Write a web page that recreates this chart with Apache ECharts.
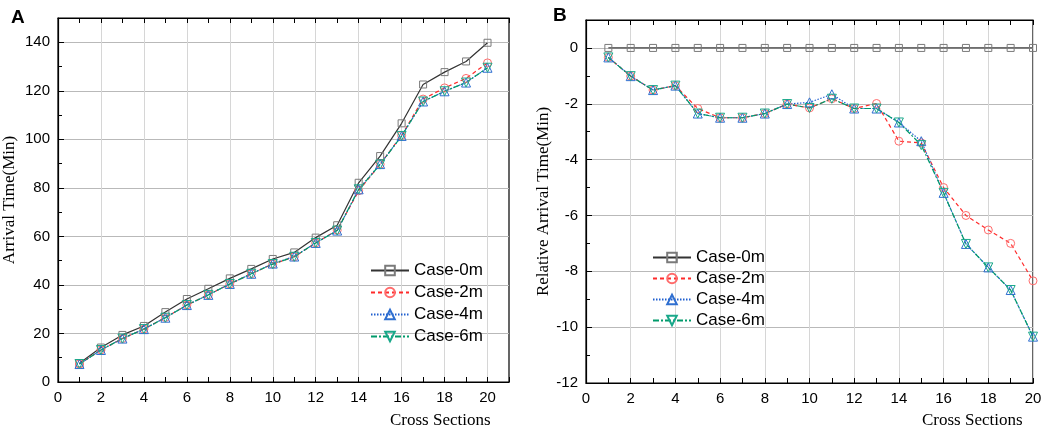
<!DOCTYPE html>
<html>
<head>
<meta charset="utf-8">
<script src="https://cdn.jsdelivr.net/npm/echarts@6/dist/echarts.min.js"></script>
<style>
  html, body { margin: 0; padding: 0; background: #fff; }
  #main { width: 1045px; height: 429px; }
</style>
</head>
<body>
<div id="main"></div>
<script>
// cross sections on the x axis
var sections = [1, 2, 3, 4, 5, 6, 7, 8, 9, 10, 11, 12, 13, 14, 15, 16, 17, 18, 19, 20];
var caseNames = ['Case-0m', 'Case-2m', 'Case-4m', 'Case-6m'];

// x tick slots (panel A runs to 21, panel B to 20)
var sectionTicksA = ['0', '1', '2', '3', '4', '5', '6', '7', '8', '9', '10', '11', '12', '13', '14', '15', '16', '17', '18', '19', '20', '21'];
var sectionTicksB = ['0', '1', '2', '3', '4', '5', '6', '7', '8', '9', '10', '11', '12', '13', '14', '15', '16', '17', '18', '19', '20'];

// panel A: arrival time (min)
var arrival0m = [7.7, 14.2, 19.4, 23.1, 28.8, 34.2, 38.4, 42.7, 46.6, 50.7, 53.4, 59.5, 64.6, 82.1, 93.1, 106.6, 122.6, 127.7, 132.1, 139.8];
var arrival2m = [7.4, 13.2, 17.9, 21.8, 26.6, 31.7, 35.9, 40.4, 44.6, 48.6, 51.6, 57.3, 62.6, 78.8, 89.7, 101.6, 116.6, 121.2, 125.1, 131.5];
var arrival4m = [7.4, 13.2, 17.9, 21.8, 26.5, 31.7, 35.9, 40.4, 44.6, 48.8, 51.7, 57.3, 62.4, 79.4, 89.8, 101.4, 115.6, 119.8, 123.4, 129.5];
var arrival6m = [7.4, 13.2, 17.9, 21.8, 26.5, 31.7, 35.9, 40.4, 44.6, 48.6, 51.6, 57.3, 62.4, 79.4, 89.6, 101.4, 115.6, 119.8, 123.4, 129.5];

// panel B: relative arrival time (min)
var relative0m = [0, 0, 0, 0, 0, 0, 0, 0, 0, 0, 0, 0, 0, 0, 0, 0, 0, 0, 0, 0];
var relative2m = [-0.34, -1.01, -1.51, -1.35, -2.17, -2.5, -2.5, -2.35, -2.01, -2.15, -1.82, -2.17, -1.99, -3.34, -3.4, -5.0, -6.0, -6.52, -7.0, -8.34];
var relative4m = [-0.34, -1.01, -1.51, -1.35, -2.35, -2.5, -2.5, -2.35, -2.01, -1.95, -1.66, -2.17, -2.17, -2.67, -3.34, -5.19, -7.02, -7.86, -8.67, -10.34];
var relative6m = [-0.34, -1.01, -1.51, -1.35, -2.35, -2.5, -2.5, -2.35, -2.01, -2.15, -1.82, -2.17, -2.17, -2.67, -3.48, -5.19, -7.02, -7.86, -8.67, -10.34];

// tick steps
var arrivalStep = 20;
var relativeStep = 2;

var sans = 'Liberation Sans, Arial, sans-serif';
var serif = 'Liberation Serif, Times New Roman, serif';

// line look of each case
var looks = [
  { symbol: 'rect', rotate: 0, mark: '#7a7a7a', line: ['#333333', '#6e6e6e'], width: [1.2, 1.8], type: 'solid', size: 7 },
  { symbol: 'circle', rotate: 0, mark: '#ff6b6b', line: ['#ff2a2a', '#ff2a2a'], width: [1.2, 1.2], type: [4, 3], size: 8 },
  { symbol: 'triangle', rotate: 0, mark: '#2f6fd0', line: ['#1f5fd0', '#1f5fd0'], width: [1.2, 1.2], type: [1.5, 1.5], size: 9 },
  { symbol: 'triangle', rotate: 180, mark: '#1aa88a', line: ['#009a6a', '#009a6a'], width: [1.2, 1.2], type: [6, 2, 2, 2], size: 9 }
];

function pairs(vals) {
  // x is the section number, which is also its slot on the category axis
  return sections.map(function (s, i) { return [s, vals[i]]; });
}

function makeSeries(name, vals, look, gi) {
  return {
    name: name,
    type: 'line',
    xAxisIndex: gi * 2,
    yAxisIndex: gi,
    data: pairs(vals),
    symbol: look.symbol,
    symbolRotate: look.rotate,
    symbolSize: look.size,
    showAllSymbol: true,
    itemStyle: { color: 'rgba(255,255,255,0)', borderColor: look.mark, borderWidth: 1 },
    lineStyle: { color: look.line[gi], width: look.width[gi], type: look.type },
    animation: false
  };
}

function isLabelled(i) { return i % 2 === 0 && i <= 20; }

function bottomX(gi, ticks) {
  return {
    type: 'category', gridIndex: gi, data: ticks, boundaryGap: false,
    axisLine: { show: true, onZero: false, lineStyle: { color: '#000', width: 1.2 } },
    axisTick: { show: true, inside: true, length: 5, interval: 0, lineStyle: { color: '#000' } },
    splitLine: { show: true, interval: function (i) { return isLabelled(i); }, lineStyle: { color: '#d6d6d6', width: 1 } },
    axisLabel: {
      color: '#000', fontFamily: sans, fontSize: 15, margin: 8,
      interval: function (i) { return isLabelled(i); }
    }
  };
}

function topX(gi, ticks) {
  return {
    type: 'category', gridIndex: gi, position: 'top', data: ticks, boundaryGap: false,
    axisLine: { show: true, onZero: false, lineStyle: { color: '#000', width: 1.2 } },
    axisTick: { show: true, inside: true, length: 5, interval: 0, lineStyle: { color: '#000' } },
    splitLine: { show: false },
    axisLabel: { show: false }
  };
}

function leftY(gi, min, max, step, name, gap) {
  return {
    type: 'value', gridIndex: gi, min: min, max: max, interval: step,
    name: name, nameLocation: 'middle', nameGap: gap,
    nameTextStyle: { fontFamily: serif, fontSize: 17, color: '#000' },
    axisLine: { show: true, onZero: false, lineStyle: { color: '#000', width: 1.2 } },
    axisTick: { show: true, inside: true, length: 6, lineStyle: { color: '#000' } },
    minorTick: { show: true, splitNumber: 2, length: 4, lineStyle: { color: '#000' } },
    splitLine: { show: true, lineStyle: { color: '#b9b9b9', width: 1.2 } },
    axisLabel: {
      color: '#000', fontFamily: sans, fontSize: 15, margin: 8,
      formatter: function (v) { return v === max ? '' : String(v); }
    }
  };
}

var arrivalSets = [arrival0m, arrival2m, arrival4m, arrival6m];
var relativeSets = [relative0m, relative2m, relative4m, relative6m];
var series = [];
caseNames.forEach(function (n, i) { series.push(makeSeries(n, arrivalSets[i], looks[i], 0)); });
caseNames.forEach(function (n, i) { series.push(makeSeries(n, relativeSets[i], looks[i], 1)); });

var legendBase = {
  orient: 'vertical', padding: 0, itemWidth: 38, itemHeight: 12, itemGap: 5,
  textStyle: { fontFamily: sans, fontSize: 17, color: '#000', lineHeight: 17 },
  data: caseNames
};

var chart = echarts.init(document.getElementById('main'), null, { renderer: 'canvas' });
chart.setOption({
  backgroundColor: '#fff',
  animation: false,
  title: [
    { text: 'A', left: 6, top: 3, textStyle: { fontFamily: sans, fontSize: 19, fontWeight: 'bold', color: '#000' } },
    { text: 'B', left: 548, top: 1, textStyle: { fontFamily: sans, fontSize: 19, fontWeight: 'bold', color: '#000' } },
    { text: 'Cross Sections', left: 385, top: 407, textStyle: { fontFamily: serif, fontSize: 17, fontWeight: 'normal', color: '#000' } },
    { text: 'Cross Sections', left: 917, top: 407, textStyle: { fontFamily: serif, fontSize: 17, fontWeight: 'normal', color: '#000' } }
  ],
  legend: [
    Object.assign({}, legendBase, { left: 370, top: 262 }),
    Object.assign({}, legendBase, { left: 652, top: 249, itemGap: 4 })
  ],
  // grid border closes the frame on the right
  grid: [
    { left: 58, top: 18, width: 451, height: 364, show: true, borderColor: '#000', borderWidth: 1.2, backgroundColor: 'transparent' },
    { left: 586, top: 20, width: 447, height: 363, show: true, borderColor: '#000', borderWidth: 1.2, backgroundColor: 'transparent' }
  ],
  xAxis: [bottomX(0, sectionTicksA), topX(0, sectionTicksA), bottomX(1, sectionTicksB), topX(1, sectionTicksB)],
  yAxis: [
    leftY(0, 0, 150, arrivalStep, 'Arrival Time(Min)', 40),
    leftY(1, -12, 1, relativeStep, 'Relative Arrival Time(Min)', 34)
  ],
  series: series
});
</script>
</body>
</html>
